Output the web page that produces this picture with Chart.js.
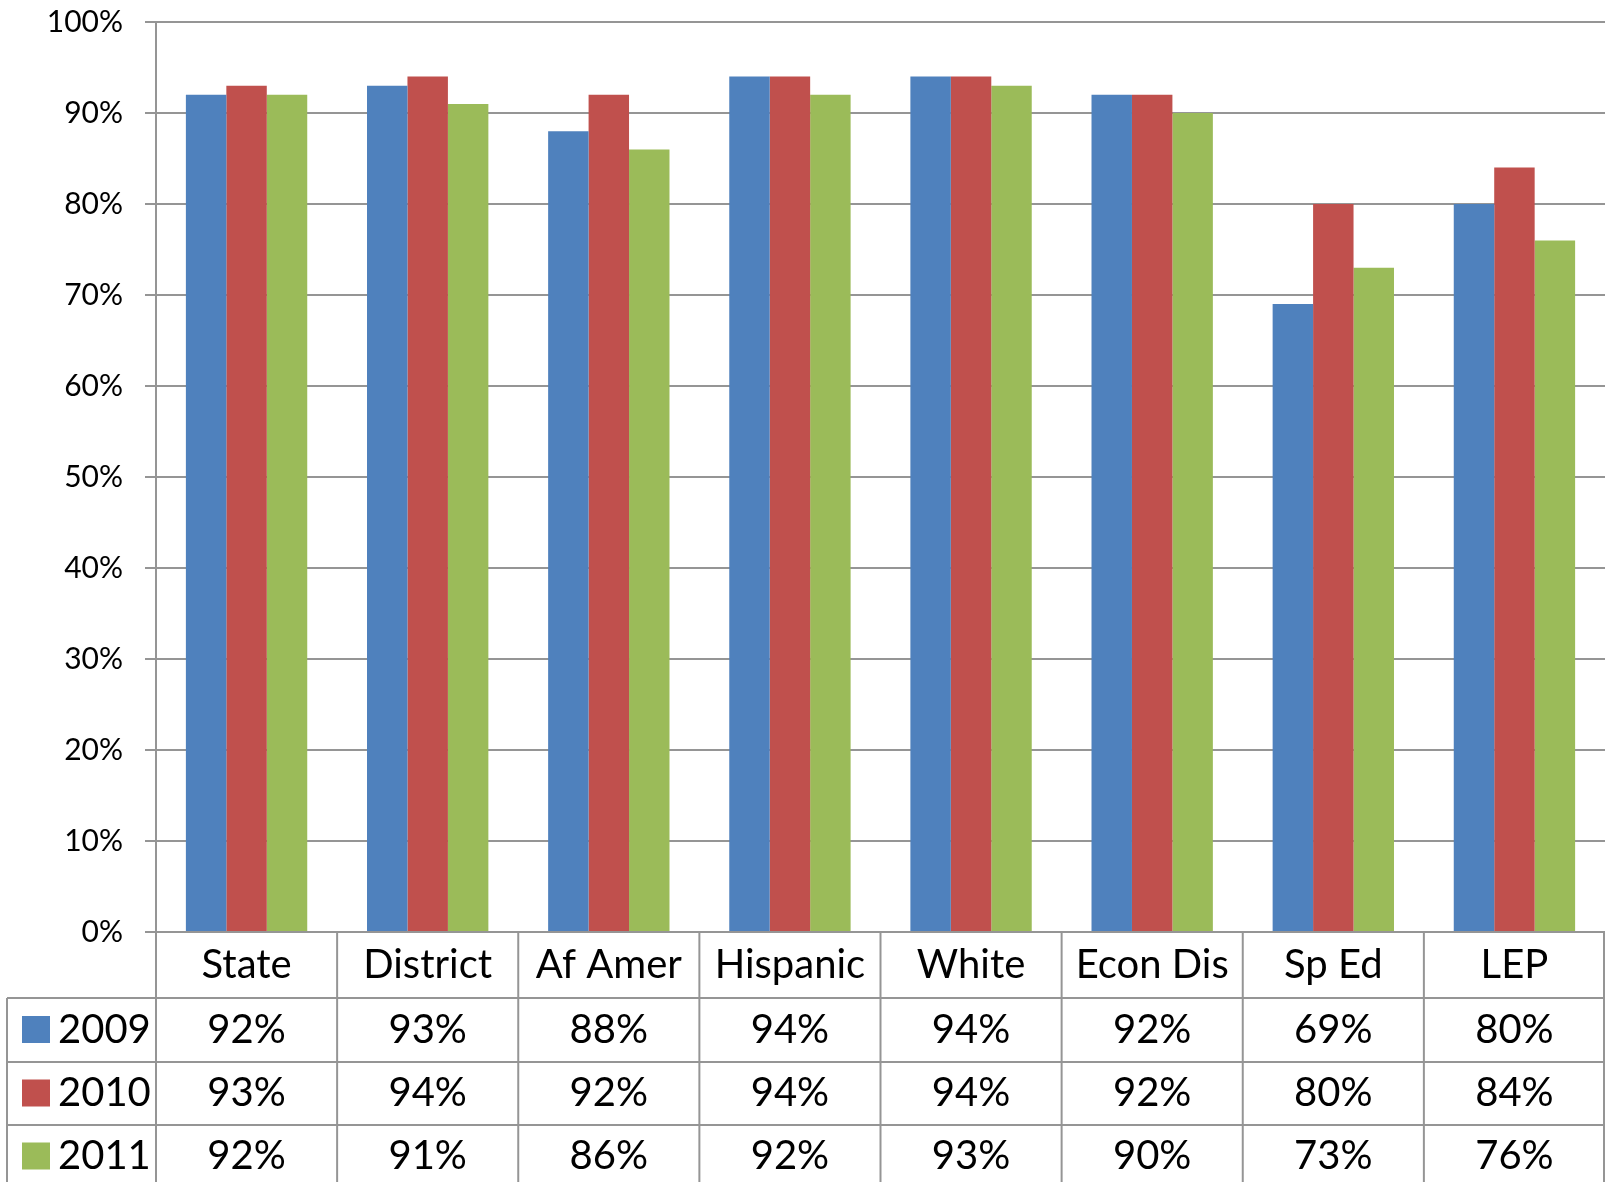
<!DOCTYPE html>
<html>
<head>
<meta charset="utf-8">
<title>Rates by student group, 2009-2011</title>
<script src="https://cdn.jsdelivr.net/npm/chart.js@4.4.1/dist/chart.umd.min.js"></script>
<style>
  html, body { margin: 0; padding: 0; background: #fff; }
  canvas { display: block; }
</style>
</head>
<body>
<canvas id="rateChart" width="1605" height="1182"></canvas>
<script>
const groups = ['State', 'District', 'Af Amer', 'Hispanic', 'White', 'Econ Dis', 'Sp Ed', 'LEP'];
const years = ['2009', '2010', '2011'];
const rates2009 = [92, 93, 88, 94, 94, 92, 69, 80];
const rates2010 = [93, 94, 92, 94, 94, 92, 80, 84];
const rates2011 = [92, 91, 86, 92, 93, 90, 73, 76];
const yMax = 100;
const yStep = 10;

const colors = ['#4f81bd', '#c0504d', '#9bbb59'];
const lineColor = '#959595';
const font = 'Lato, "Open Sans", sans-serif';

// data table under the plot, columns line up with the x scale categories
const dataTable = {
  id: 'dataTable',
  afterDraw(chart) {
    const { ctx, chartArea } = chart;
    const n = groups.length;
    const colW = (chartArea.right - chartArea.left) / n;
    const b = chartArea.bottom;
    const rowEdges = [b, b + 66, b + 130, b + 193, b + 256];
    const tableLeft = 7;

    ctx.save();
    ctx.strokeStyle = lineColor;
    ctx.lineWidth = 2;

    // horizontal lines
    for (let r = 1; r < rowEdges.length; r++) {
      ctx.beginPath();
      ctx.moveTo(tableLeft, rowEdges[r]);
      ctx.lineTo(chartArea.right, rowEdges[r]);
      ctx.stroke();
    }
    // column lines
    for (let c = 0; c <= n; c++) {
      const xPos = Math.min(chartArea.left + c * colW, chartArea.right - 1);
      ctx.beginPath();
      ctx.moveTo(xPos, rowEdges[0]);
      ctx.lineTo(xPos, rowEdges[4]);
      ctx.stroke();
    }
    ctx.beginPath();
    ctx.moveTo(tableLeft, rowEdges[1]);
    ctx.lineTo(tableLeft, rowEdges[4]);
    ctx.stroke();

    ctx.fillStyle = '#000';
    ctx.textBaseline = 'middle';
    ctx.font = '40px ' + font;
    ctx.textAlign = 'center';
    groups.forEach((g, i) => {
      ctx.fillText(g, chartArea.left + (i + 0.5) * colW, (rowEdges[0] + rowEdges[1]) / 2);
    });

    chart.data.datasets.forEach((ds, r) => {
      const yMid = (rowEdges[r + 1] + rowEdges[r + 2]) / 2;
      ctx.fillStyle = ds.backgroundColor;
      ctx.fillRect(22, yMid - 14, 28, 27);
      ctx.fillStyle = '#000';
      ctx.textAlign = 'left';
      ctx.fillText(ds.label, 58, yMid);
      ctx.textAlign = 'center';
      ds.data.forEach((v, i) => {
        ctx.fillText(v + '%', chartArea.left + (i + 0.5) * colW, yMid);
      });
    });
    ctx.restore();
  }
};

function draw() {
  new Chart(document.getElementById('rateChart'), {
    type: 'bar',
    data: {
      labels: groups,
      datasets: [
        { label: years[0], data: rates2009, backgroundColor: colors[0] },
        { label: years[1], data: rates2010, backgroundColor: colors[1] },
        { label: years[2], data: rates2011, backgroundColor: colors[2] },
      ],
    },
    options: {
      responsive: false,
      animation: false,
      devicePixelRatio: 1,
      layout: { padding: { top: 22, bottom: 250, left: 0, right: 0 } },
      datasets: { bar: { categoryPercentage: 0.67, barPercentage: 1.0 } },
      plugins: { legend: { display: false }, tooltip: { enabled: false } },
      scales: {
        x: { display: false },
        y: {
          min: 0,
          max: yMax,
          ticks: {
            stepSize: yStep,
            padding: 22,
            color: '#000',
            font: { family: font, size: 30 },
            callback: (v) => v + '%',
          },
          grid: { color: lineColor, lineWidth: 2, tickLength: 11 },
          border: { color: lineColor, width: 2 },
          afterFit: (scale) => {
            scale.width = 156;
            scale.paddingTop = 0;
            scale.paddingBottom = 0;
          },
        },
      },
    },
    plugins: [dataTable],
  });
}

document.fonts.load('30px Lato').then(draw, draw);
</script>
</body>
</html>
